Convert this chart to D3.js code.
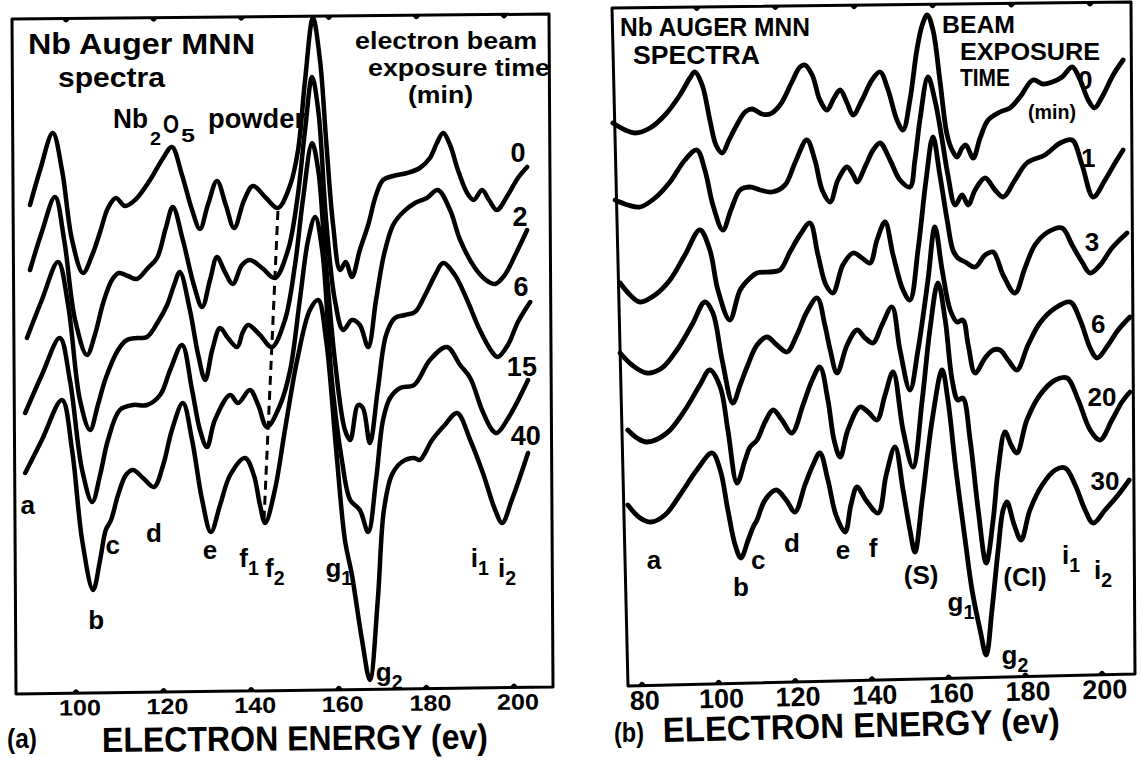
<!DOCTYPE html>
<html>
<head>
<meta charset="utf-8">
<script src="https://cdnjs.cloudflare.com/ajax/libs/d3/7.8.5/d3.min.js"></script>
<style>
  body { margin: 0; background: #fff; }
  svg { display: block; background: #fff; }
  text { font-family: "Liberation Sans", Arial, sans-serif; font-weight: bold; fill: #000; }
</style>
</head>
<body>
<svg id="plot" width="1142" height="760"></svg>
<script>
// Nb Auger MNN spectra, dN/dE in arbitrary units against electron energy (eV)

// ---- panel (a): Nb2O5 powder, exposure 0, 2, 6, 15, 40 min ----
var timesA = ['0', '2', '6', '15', '40'];
var a0 = [[89.5,97.2],[91.8,104.2],[94.7,111.6],[96.8,104.2],[99.1,90.2],[101.6,83.6],[103.7,87.2],[105.5,91.8],[107.3,96.6],[109.1,98.6],[111.2,97.0],[113.5,98.2],[116.9,102.2],[119.9,106.6],[121.9,108.8],[124.2,103.2],[126.5,96.2],[128.3,92.4],[130.1,97.2],[132.2,102.0],[134.2,97.2],[136.1,92.6],[138.4,98.2],[140.4,101.0],[143.4,98.6],[146.1,96.6],[148.9,101.2],[150.7,108.2],[152.3,122.2],[154.1,134.6],[155.7,126.2],[157.1,110.2],[158.7,93.2],[160.3,84.2],[161.6,85.8],[163.0,82.8],[164.8,88.2],[166.7,93.2],[168.5,99.2],[170.1,102.2],[172.4,103.0],[175.6,103.6],[178.5,104.6],[180.8,106.6],[182.4,109.6],[183.8,111.6],[185.4,109.2],[187.2,104.2],[189.3,99.6],[190.8,98.2],[192.7,100.2],[194.3,98.2],[196.1,96.2],[198.6,99.2],[200.9,102.6],[203.0,104.8]];
var a2 = [[89.5,84.2],[92.2,91.8],[95.2,98.8],[97.3,90.2],[99.8,74.2],[102.5,67.2],[104.3,71.2],[106.2,77.6],[108.2,82.2],[109.8,83.6],[111.9,83.0],[113.9,82.4],[116.4,84.6],[118.5,86.6],[120.5,92.6],[122.1,96.8],[124.4,90.2],[126.9,81.2],[128.8,76.8],[130.6,82.2],[132.2,86.8],[134.0,83.8],[135.8,81.4],[137.9,85.2],[139.7,86.2],[142.5,84.6],[145.4,82.6],[148.4,88.2],[150.5,98.2],[152.3,112.2],[153.9,122.8],[155.3,116.2],[157.1,94.2],[159.1,78.2],[161.0,72.2],[163.0,74.2],[164.8,73.2],[166.7,68.8],[168.5,78.2],[170.3,87.2],[172.4,93.2],[174.7,95.8],[177.4,97.6],[180.1,98.6],[182.6,100.2],[185.4,96.2],[187.7,90.2],[191.1,84.6],[193.6,82.2],[195.7,81.4],[197.9,83.2],[200.5,87.6],[203.0,92.2]];
var a6 = [[88.8,70.6],[92.2,78.2],[95.9,85.8],[98.2,77.2],[100.9,58.2],[103.2,52.2],[105.0,57.2],[106.8,62.6],[109.6,68.2],[111.6,70.2],[113.9,70.6],[116.2,70.8],[118.7,73.8],[120.8,77.2],[122.4,81.2],[123.7,83.8],[126.0,76.2],[127.9,67.2],[129.5,62.2],[131.1,68.2],[132.9,72.6],[134.7,70.6],[136.8,68.8],[138.1,71.8],[139.3,73.2],[142.0,71.2],[144.7,68.8],[147.7,74.2],[150.0,85.2],[151.8,98.2],[153.9,109.6],[155.3,104.2],[156.8,88.2],[159.1,66.2],[161.4,52.2],[162.6,50.2],[164.4,57.2],[165.5,56.6],[167.1,49.6],[168.9,60.2],[170.8,71.2],[172.8,74.6],[175.1,75.2],[177.4,75.8],[179.7,79.2],[182.0,83.2],[183.8,85.6],[186.5,83.2],[189.3,78.2],[192.2,72.2],[195.0,67.8],[196.3,66.8],[198.6,69.2],[200.9,73.8],[203.7,77.8]];
var a15 = [[88.4,55.6],[92.2,63.2],[96.3,70.6],[98.6,62.2],[101.4,44.2],[103.7,37.8],[105.5,43.2],[107.3,50.2],[110.0,56.2],[113.0,57.2],[116.2,57.2],[119.2,59.2],[121.5,64.2],[124.2,69.2],[126.5,60.2],[128.3,52.2],[129.9,48.8],[131.7,54.2],[135.2,59.2],[137.0,57.6],[139.7,60.2],[141.6,57.2],[143.6,52.8],[146.6,57.2],[148.9,64.2],[151.1,78.2],[153.0,90.2],[154.6,94.8],[156.2,88.2],[158.4,62.2],[160.7,46.2],[162.6,38.2],[164.8,36.2],[166.7,31.8],[168.5,42.2],[170.1,54.2],[171.7,58.6],[174.0,60.6],[177.2,61.2],[180.8,66.2],[184.7,68.8],[187.7,65.2],[190.0,62.6],[192.7,56.2],[195.0,52.2],[196.1,51.6],[199.1,55.2],[203.2,62.2]];
var a40 = [[88.4,43.6],[92.2,50.2],[96.8,58.2],[99.1,48.2],[101.4,30.2],[103.9,20.2],[105.5,26.2],[106.8,32.2],[108.0,34.2],[109.6,39.2],[111.4,43.2],[113.0,44.2],[115.3,42.6],[117.8,40.8],[119.9,45.2],[121.9,52.2],[124.4,57.6],[126.5,50.2],[128.8,38.2],[130.8,31.8],[132.9,37.2],[135.2,43.2],[138.6,46.6],[140.6,43.2],[142.0,37.2],[143.2,33.6],[145.4,40.2],[147.7,52.2],[150.5,66.2],[153.4,76.2],[155.3,78.2],[157.1,70.2],[159.4,48.2],[161.4,30.2],[163.0,23.2],[165.3,10.2],[167.1,2.2],[168.9,18.2],[170.3,36.2],[172.1,43.2],[174.4,45.8],[177.2,46.6],[178.5,46.2],[181.3,50.2],[184.2,53.2],[187.0,55.6],[190.0,50.2],[192.9,43.6],[195.7,36.2],[197.3,33.6],[199.5,38.2],[203.2,47.6]];
var seriesA = [a0, a2, a6, a15, a40];
// where each time label sits (energy, signal)
var timePosA = [[200.9,107.6],[201.4,94.8],[201.6,80.8],[201.8,64.8],[202.7,51.0]];
// dashed guide through the f2 minima
var f2Guide = [[146.1,96.0],[142.9,33.8]];
var peaksA = [['a','',89.0,37.2],['b','',104.6,14.2],['c','',108.4,29.2],['d','',117.8,31.6],['e','',130.6,28.2],['f','1',139.5,26.6],['f','2',145.4,24.6],['g','1',160.0,24.6],['g','2',171.5,3.8],['i','1',192.2,26.6],['i','2',198.4,24.6]];
var ticksA = [100, 120, 140, 160, 180, 200];

// ---- panel (b): exposure 0, 1, 3, 6, 20, 30 min ----
var timesB = ['0', '1', '3', '6', '20', '30'];
var b0 = [[72.4,112.0],[75.6,110.6],[78.2,110.0],[82.1,111.0],[86.0,113.6],[89.9,117.6],[92.5,121.0],[93.8,122.2],[95.7,119.6],[97.7,112.6],[99.3,107.6],[100.9,106.0],[102.7,108.6],[104.3,111.0],[106.9,114.2],[108.7,114.8],[111.3,113.8],[113.4,113.8],[116.0,115.6],[119.1,120.2],[121.2,123.2],[122.5,123.6],[124.4,121.6],[126.4,116.6],[128.3,114.6],[130.1,117.0],[131.7,118.6],[133.5,116.0],[135.1,113.6],[137.4,116.6],[140.0,120.6],[142.1,122.2],[144.2,118.6],[146.5,112.6],[148.1,110.6],[149.9,116.6],[151.7,126.6],[153.1,131.6],[154.4,133.6],[155.9,130.6],[157.7,120.6],[159.6,109.6],[160.9,106.6],[162.2,105.2],[163.5,107.0],[164.5,107.6],[166.4,105.0],[168.2,109.0],[170.3,112.6],[173.4,114.2],[176.0,115.0],[178.6,117.2],[182.0,120.6],[184.6,119.8],[187.0,120.2],[189.6,121.2],[192.2,123.2],[194.3,120.6],[196.4,116.6],[198.0,115.0],[200.3,117.6],[202.9,121.6],[205.5,124.6]];
var b1 = [[73.0,96.6],[76.3,95.6],[79.5,95.2],[83.4,97.0],[87.3,100.2],[91.2,104.6],[94.3,106.6],[96.4,102.6],[98.5,95.6],[101.1,90.6],[103.2,94.6],[105.6,98.6],[108.2,99.2],[110.8,98.6],[113.9,98.2],[117.3,99.6],[119.9,104.0],[123.0,108.6],[125.1,104.6],[127.0,98.6],[129.1,96.2],[131.1,100.6],[133.5,103.2],[135.1,101.6],[136.1,100.2],[138.4,103.6],[140.3,106.6],[142.1,108.0],[144.7,104.6],[147.3,100.6],[149.9,99.2],[151.2,104.6],[152.5,112.6],[154.6,121.2],[156.4,116.6],[158.3,108.6],[159.8,101.6],[161.7,95.6],[163.5,97.6],[165.1,95.6],[166.9,98.6],[169.5,101.0],[172.1,98.6],[174.2,97.2],[177.3,100.6],[180.4,104.0],[185.1,105.6],[189.1,108.0],[192.2,108.6],[194.8,103.6],[197.7,97.2],[200.8,100.6],[203.4,104.0],[205.5,106.6]];
var b3 = [[74.3,80.0],[76.9,77.6],[79.5,76.2],[83.4,77.6],[87.3,80.6],[91.2,85.6],[95.1,90.6],[97.7,86.6],[99.8,78.6],[102.9,72.6],[105.6,78.6],[108.2,81.0],[110.0,82.0],[113.4,82.2],[116.0,82.6],[118.6,86.2],[121.2,89.6],[123.8,92.0],[125.9,85.6],[128.0,79.6],[129.8,78.0],[132.4,83.6],[135.1,86.0],[137.4,85.0],[139.5,84.0],[141.3,88.6],[143.4,92.2],[145.5,85.6],[148.1,78.6],[149.9,76.6],[152.0,86.6],[154.1,100.6],[155.9,109.2],[157.7,101.6],[159.6,92.6],[161.1,86.6],[162.4,85.0],[164.3,84.2],[166.9,83.2],[169.5,85.6],[171.6,86.2],[174.2,81.6],[177.3,78.0],[179.9,83.0],[182.5,87.6],[185.9,90.2],[189.6,91.0],[192.2,87.6],[194.8,84.2],[196.9,82.0],[199.5,83.6],[202.6,87.0],[206.5,90.0]];
var b6 = [[74.3,66.0],[77.4,63.6],[81.3,62.0],[85.2,63.0],[89.1,66.6],[93.0,71.6],[96.4,76.2],[98.5,74.0],[100.9,64.6],[103.7,56.0],[105.6,59.6],[107.4,63.2],[110.0,67.6],[112.6,69.2],[115.2,67.6],[117.8,66.2],[120.4,69.6],[123.0,74.2],[125.7,77.0],[127.7,71.6],[129.1,66.6],[130.9,62.0],[133.5,67.6],[136.1,70.6],[138.2,69.0],[140.3,68.0],[142.6,71.6],[145.2,75.2],[147.3,66.6],[149.9,58.6],[152.0,66.6],[154.6,80.6],[156.4,91.2],[158.3,82.6],[160.4,74.6],[162.2,72.2],[163.7,72.6],[165.1,67.6],[166.9,62.0],[169.5,65.0],[171.6,66.6],[173.4,66.6],[175.5,64.6],[177.8,62.6],[180.7,67.6],[183.8,72.0],[187.8,75.0],[191.7,76.2],[194.3,72.6],[196.9,67.0],[198.7,65.0],[201.6,67.6],[204.2,70.6],[207.3,73.2]];
var b20 = [[76.3,50.6],[78.7,49.0],[81.3,48.2],[86.5,50.0],[91.2,54.6],[95.1,59.6],[97.7,62.6],[100.4,59.2],[102.4,50.6],[104.8,40.0],[106.9,44.6],[108.2,47.2],[110.0,48.6],[112.1,52.2],[114.2,54.6],[116.5,52.6],[119.1,50.0],[122.0,55.6],[124.4,60.6],[126.4,63.2],[128.5,56.6],[130.1,48.6],[131.7,45.2],[133.7,50.6],[136.9,55.2],[139.0,54.2],[141.3,52.6],[143.4,57.6],[145.5,62.2],[148.1,50.6],[150.7,43.2],[153.1,56.6],[155.1,70.6],[157.2,80.0],[159.1,72.6],[160.9,60.6],[162.4,56.6],[163.7,57.0],[165.6,48.6],[167.7,34.6],[169.8,24.0],[171.6,32.6],[172.9,42.6],[174.7,50.2],[176.3,47.6],[177.8,46.0],[180.4,52.6],[183.8,57.6],[187.8,60.6],[190.9,61.0],[193.8,56.6],[196.9,50.6],[199.5,48.6],[202.6,52.6],[205.2,56.2],[207.3,58.2]];
var b30 = [[76.3,35.6],[79.5,33.0],[82.3,32.2],[86.0,33.6],[89.9,37.6],[94.3,42.6],[98.3,46.0],[100.4,42.6],[102.4,34.6],[104.3,27.6],[105.8,25.0],[107.7,28.6],[109.0,31.2],[110.0,32.6],[112.1,36.6],[115.0,38.6],[117.6,36.6],[119.9,34.2],[122.5,39.6],[124.6,43.6],[126.4,46.0],[128.5,40.6],[130.6,33.6],[133.0,30.2],[134.5,35.6],[136.1,39.2],[138.4,36.6],[141.6,34.0],[143.7,41.6],[146.0,47.2],[148.1,38.6],[149.9,30.6],[151.2,26.2],[153.1,36.6],[155.7,52.6],[158.3,62.6],[159.8,56.6],[161.9,42.6],[164.3,28.6],[166.1,18.6],[168.2,10.6],[169.8,5.6],[171.3,14.6],[172.9,26.6],[174.2,34.6],[175.2,36.2],[177.1,31.6],[178.9,28.6],[181.2,34.6],[184.4,39.6],[187.8,42.6],[190.4,43.0],[193.0,39.6],[195.6,34.6],[197.7,32.0],[200.8,34.6],[204.2,37.6],[207.1,40.6]];
var seriesB = [b0, b1, b3, b6, b20, b30];
var timePosB = [[195.6,120.6],[196.4,105.0],[197.4,88.2],[199.0,71.8],[200.0,57.2],[200.8,40.4]];
var peaksB = [['a','',83.1,24.6],['b','',105.8,19.2],['c','',110.3,24.6],['d','',119.1,28.0],['e','',132.4,26.6],['f','',140.3,27.0],['(S)','',152.8,21.6],['g','1',163.2,16.2],['g','2',177.3,5.6],['(Cl)','',179.9,21.2],['i','1',191.9,25.6],['i','2',200.3,22.6]];
var ticksB = [80, 100, 120, 140, 160, 180, 200];

var svg = d3.select('#plot');

// scales (the scanned frames are a little skewed, the corners below follow the picture)
var xA = d3.scaleLinear().domain([100, 200]).range([76, 514]);
var yA = d3.scaleLinear().domain([0, 135]).range([691, 16]);
var xB = d3.scaleLinear().domain([80, 200]).range([642, 1102]);
var yB = d3.scaleLinear().domain([0, 135]).range([683, 8]);

var frameA = [[12, 19], [16, 694], [553, 687], [549, 14]];
var frameB = [[612, 8], [628, 686], [1135, 674], [1131, 2]];

function edgeY (p, q, x) {
  return p[1] + (q[1] - p[1]) * (x - p[0]) / (q[0] - p[0]);
}

function drawPanel (frame, xs, ys, series, ticks, opts) {
  var g = svg.append('g');

  g.append('path')
    .attr('d', 'M' + frame.join('L') + 'Z')
    .attr('fill', 'none')
    .attr('stroke', '#000')
    .attr('stroke-width', 3)
    .attr('stroke-linejoin', 'round');

  // small bumps standing in for tick marks, bottom edge and top edge
  ticks.forEach(function (t) {
    var xb = xs(t);
    var yb = edgeY(frame[1], frame[2], xb);
    g.append('path')
      .attr('d', 'M' + (xb - 4) + ',' + yb + 'Q' + xb + ',' + (yb - 8) + ' ' + (xb + 4) + ',' + yb + 'Z')
      .attr('fill', '#000');
    var xt = xb + opts.topShift(t);
    if (xt > frame[0][0] + 8) {
      var yt = edgeY(frame[0], frame[3], xt);
      g.append('path')
        .attr('d', 'M' + (xt - 4) + ',' + yt + 'Q' + xt + ',' + (yt + 8) + ' ' + (xt + 4) + ',' + yt + 'Z')
        .attr('fill', '#000');
    }
    var lx = xb + opts.labelDx;
    var ly = yb + opts.labelDy;
    g.append('text')
      .attr('x', lx)
      .attr('y', ly)
      .attr('text-anchor', 'middle')
      .attr('font-size', opts.labelSize)
      .attr('textLength', String(t).length * opts.digitWidth)
      .attr('lengthAdjust', 'spacingAndGlyphs')
      .attr('transform', 'rotate(' + opts.tilt + ',' + lx + ',' + ly + ')')
      .text(t);
  });

  var line = d3.line()
    .x(function (d) { return xs(d[0]); })
    .y(function (d) { return ys(d[1]); })
    .curve(d3.curveCatmullRom.alpha(0.5));

  g.selectAll('path.spec')
    .data(series)
    .enter()
    .append('path')
    .attr('class', 'spec')
    .attr('d', line)
    .attr('fill', 'none')
    .attr('stroke', '#000')
    .attr('stroke-width', opts.lineWidth)
    .attr('stroke-linecap', 'round')
    .attr('stroke-linejoin', 'round');

  return g;
}

function peakLabels (g, list, xs, ys, size) {
  list.forEach(function (p) {
    var t = g.append('text')
      .attr('x', xs(p[2]))
      .attr('y', ys(p[3]))
      .attr('dy', '0.35em')
      .attr('text-anchor', 'middle')
      .attr('font-size', size)
      .text(p[0]);
    if (p[1]) {
      t.append('tspan')
        .attr('dy', 8)
        .attr('font-size', size * 0.75)
        .text(p[1]);
    }
  });
}

function timeLabels (g, names, pos, xs, ys, size) {
  g.selectAll('text.time')
    .data(names)
    .enter()
    .append('text')
    .attr('class', 'time')
    .attr('x', function (d, i) { return xs(pos[i][0]); })
    .attr('y', function (d, i) { return ys(pos[i][1]); })
    .attr('dy', '0.35em')
    .attr('text-anchor', 'middle')
    .attr('font-size', size)
    .text(function (d) { return d; });
}

function words (s, x, y, size, len, tilt) {
  var t = svg.append('text')
    .attr('x', x)
    .attr('y', y)
    .attr('font-size', size)
    .text(s);
  if (len) {
    t.attr('textLength', len).attr('lengthAdjust', 'spacingAndGlyphs');
  }
  if (tilt) {
    t.attr('transform', 'rotate(' + tilt + ',' + x + ',' + y + ')');
  }
  return t;
}

/* panel (a) */
var gA = drawPanel(frameA, xA, yA, seriesA, ticksA, {
  topShift: function () { return -10; },
  labelDx: 4, labelDy: 22, labelSize: 22, digitWidth: 14, tilt: -0.5, lineWidth: 4.5
});

gA.append('line')
  .attr('x1', xA(f2Guide[0][0]))
  .attr('y1', yA(f2Guide[0][1]))
  .attr('x2', xA(f2Guide[1][0]))
  .attr('y2', yA(f2Guide[1][1]))
  .attr('stroke', '#000')
  .attr('stroke-width', 3)
  .attr('stroke-dasharray', '9,6');

peakLabels(gA, peaksA, xA, yA, 26);
timeLabels(gA, timesA, timePosA, xA, yA, 27);

words('Nb Auger MNN', 28, 54, 29, 227);
words('spectra', 58, 87, 28, 107);
words('Nb', 113, 128, 28, 35);
words('2', 150, 145, 19, 11);
words('O', 163, 133, 26, 16);
words('5', 181, 142, 19, 14);
words('powder', 208, 128, 28, 97);
words('electron beam', 355, 49, 24, 182);
words('exposure time', 368, 76, 24, 182);
words('(min)', 408, 103, 23, 65);
words('(a)', 7, 748, 28, 30);
words('ELECTRON ENERGY (ev)', 102, 752, 35, 386, -0.5);

/* panel (b) */
var gB = drawPanel(frameB, xB, yB, seriesB, ticksB, {
  topShift: function (t) { return -22 + (t - 100) * 0.1; },
  labelDx: 3, labelDy: 24, labelSize: 27, digitWidth: 15, tilt: -1.35, lineWidth: 4.8
});

peakLabels(gB, peaksB, xB, yB, 26);
timeLabels(gB, timesB, timePosB, xB, yB, 26);

words('Nb AUGER MNN', 620, 36, 25, 190);
words('SPECTRA', 633, 64, 25, 127);
words('BEAM', 942, 33, 23, 73);
words('EXPOSURE', 960, 60, 23, 140);
words('TIME', 960, 86, 23, 50);
words('(min)', 1028, 119, 21, 48);
words('(b)', 614, 742, 28, 30);
words('ELECTRON ENERGY (ev)', 663, 742, 35, 397, -1.35);
</script>
</body>
</html>
